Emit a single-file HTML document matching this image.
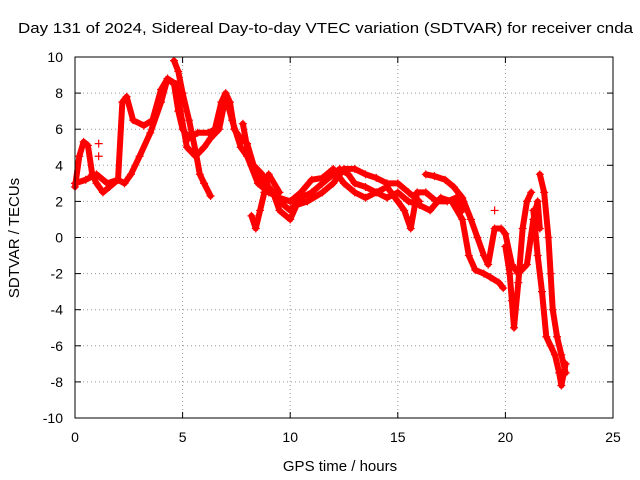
<!DOCTYPE html>
<html><head><meta charset="utf-8"><style>
body{margin:0;background:#fff}
svg{display:block;font-family:"Liberation Sans",sans-serif}
</style></head><body>
<svg id="chart" width="640" height="480" viewBox="0 0 640 480">
<rect width="640" height="480" fill="#fff"/>
<text x="18" y="33" font-size="15" textLength="615" lengthAdjust="spacingAndGlyphs">Day 131 of 2024, Sidereal Day-to-day VTEC variation (SDTVAR) for receiver cnda</text>
<text x="340" y="471" font-size="15" text-anchor="middle">GPS time / hours</text>
<text transform="translate(19,238) rotate(-90)" font-size="15" text-anchor="middle">SDTVAR / TECUs</text>
<g id="grid"></g><g id="ticks"></g><g id="marks"></g>
<rect x="75" y="57" width="538" height="361" fill="none" stroke="#000" stroke-width="1"/>
</svg>
<script>
const xTicks=[0,5,10,15,20,25];
const yTicks=[-10,-8,-6,-4,-2,0,2,4,6,8,10];
const trackA=[[0,2.8],[0.2,4.5],[0.4,5.3],[0.6,5.1],[0.8,3.5],[1.0,3.0],[1.3,2.5],[1.6,2.8],[2.0,3.2],[2.3,3.0],[2.6,3.5],[3.0,4.5],[3.5,5.8],[4.0,7.5],[4.3,8.8],[4.6,8.5],[4.8,7.0],[5.0,6.0],[5.3,5.5],[5.7,5.8],[6.2,5.8],[6.5,6.0],[6.8,7.5],[7.0,8.0],[7.2,7.5],[7.4,6.0],[7.7,5.5],[8.0,5.2],[8.3,4.0],[8.7,3.5],[9.0,2.8],[9.5,2.0],[10.0,1.5],[10.5,2.2],[11.0,2.5],[11.5,3.0],[12.0,3.5],[12.3,3.8],[12.7,3.5],[13.0,3.0],[13.5,2.8],[14.0,2.5],[14.5,2.2],[15.0,2.5],[15.5,2.0],[16.0,1.8],[16.5,1.5],[17.0,2.2],[17.5,2.0],[18.0,1.0],[18.3,-1.0],[18.6,-1.8],[19.0,-2.0],[19.3,-2.2],[19.7,-2.5],[19.9,-2.8]];
const trackB=[[0,3.0],[0.5,3.2],[1.0,3.5],[1.5,3.0],[2.0,3.2],[2.2,7.5],[2.4,7.8],[2.7,6.5],[3.2,6.2],[3.6,6.5],[4.0,8.2],[4.3,8.8],[4.7,8.5],[4.9,7.0],[5.2,5.0],[5.6,4.5],[6.0,5.0],[6.3,5.5],[6.7,6.0],[7.0,7.8],[7.3,6.5],[7.7,5.0],[8.0,4.5],[8.5,3.0],[9.0,2.5],[9.5,2.2],[10.0,2.0],[10.5,2.5],[11.0,3.2],[11.5,3.3],[12.0,3.8],[12.5,3.0],[13.0,2.5],[13.5,2.2],[14.0,2.5],[14.5,2.8],[15.0,2.0],[15.3,1.5],[15.6,0.5],[15.9,2.5],[16.3,2.5],[16.8,2.0],[17.3,2.0],[17.7,2.2],[18.0,1.5]];
const trackC=[[4.6,9.8],[4.8,9.2],[5.0,8.0],[5.3,6.5],[5.6,4.8],[5.8,3.5],[6.0,3.0],[6.3,2.3]];
const trackD=[[7.8,6.3],[8.0,5.0],[8.2,4.0],[8.5,3.5],[8.8,3.0],[9.2,2.5],[9.5,1.5],[10.0,1.0],[10.3,1.8],[10.8,2.0],[11.5,2.5],[12.0,3.0],[12.5,3.8],[13.0,3.8],[13.5,3.5],[14.0,3.3],[14.5,3.0],[15.0,3.0],[15.5,2.5],[16.0,2.0]];
const trackE=[[8.2,1.2],[8.4,0.5],[8.6,1.5],[8.8,2.5],[9.0,3.5],[9.5,2.5]];
const trackF=[[16.3,3.5],[16.7,3.4],[17.2,3.2],[17.6,2.8],[18.0,2.2],[18.4,1.0],[18.7,0.0],[19.0,-1.0],[19.2,-1.5],[19.5,0.5],[19.8,0.5],[20.0,0.2],[20.3,-1.5],[20.6,-2.0],[21.0,-1.5],[21.3,1.0],[21.5,2.0],[21.6,0.5]];
const trackG=[[20.0,-0.5],[20.2,-2.0],[20.3,-3.5],[20.4,-5.0],[20.6,-2.5],[20.8,0.5],[21.0,2.0],[21.2,2.5]];
const trackH=[[21.6,3.5],[21.8,2.5],[22.0,0.0],[22.1,-2.0],[22.2,-4.0],[22.4,-5.5],[22.6,-6.5],[22.8,-7.5]];
const trackI=[[21.3,1.5],[21.5,-1.0],[21.7,-3.0],[21.9,-5.5],[22.1,-6.0],[22.3,-6.5],[22.5,-7.5],[22.6,-8.2],[22.8,-7.0]];
const extras=[[1.1,5.2],[1.1,4.5],[19.5,1.5]];
const tracks=[trackA,trackB,trackC,trackD,trackE,trackF,trackG,trackH,trackI];
const NS="http://www.w3.org/2000/svg";
const L=75,R=613,T=57,B=418;
function sx(v){return L+(v-0)/(25-0)*(R-L);}
function sy(v){return B-(v+10)/20*(B-T);}
function mk(tag,at,par){const e=document.createElementNS(NS,tag);for(const k in at)e.setAttribute(k,at[k]);par.appendChild(e);return e;}
const grid=document.getElementById('grid'),ticks=document.getElementById('ticks'),marks=document.getElementById('marks');
xTicks.forEach(v=>{const x=sx(v);
 if(v>0&&v<25){const g=mk('line',{x1:x,x2:x,y1:T,y2:B,stroke:'#999','stroke-dasharray':'1,3'},grid);
 
 }
 mk('line',{x1:x,x2:x,y1:B,y2:B-6,stroke:'#000'},ticks);mk('line',{x1:x,x2:x,y1:T,y2:T+6,stroke:'#000'},ticks);
 const t=mk('text',{x:x,y:B+24,'font-size':14,'text-anchor':'middle'},ticks);t.textContent=v;
 
 });
yTicks.forEach(v=>{const y=sy(v);
 if(v>-10&&v<10){const g=mk('line',{x1:L,x2:R,y1:y,y2:y,stroke:'#999','stroke-dasharray':'1,3'},grid);
 
 }
 mk('line',{x1:L,x2:L+6,y1:y,y2:y,stroke:'#000'},ticks);mk('line',{x1:R,x2:R-6,y1:y,y2:y,stroke:'#000'},ticks);
 const t=mk('text',{x:L-12,y:y+5,'font-size':14,'text-anchor':'end'},ticks);t.textContent=v;
 
 });
tracks.forEach((tr,i)=>{
 const pl=mk('polyline',{points:tr.map(p=>sx(p[0])+','+sy(p[1])).join(' '),fill:'none',stroke:'#f00','stroke-width':6,'stroke-linejoin':'round','stroke-linecap':'round'},marks);
 
 
 tr.forEach(p=>{const x=sx(p[0]),y=sy(p[1]);
  const m=mk('path',{d:`M${x-4},${y}H${x+4}M${x},${y-4}V${y+4}`,stroke:'#f00','stroke-width':1.2},marks);
  
  });
});
extras.forEach(p=>{const x=sx(p[0]),y=sy(p[1]);
 const m=mk('path',{d:`M${x-4},${y}H${x+4}M${x},${y-4}V${y+4}`,stroke:'#f00','stroke-width':1.2},marks);
 
 });
</script>
</body></html>
